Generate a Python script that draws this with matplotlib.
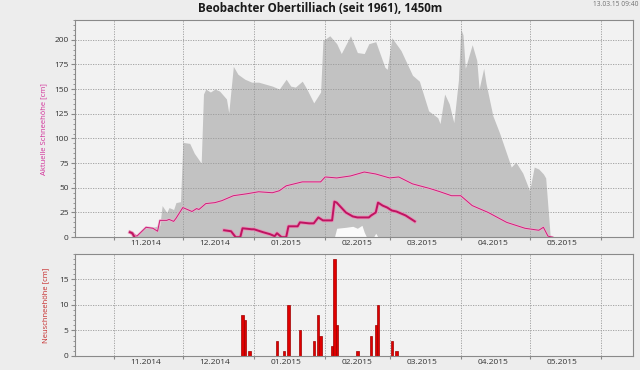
import matplotlib
matplotlib.use("Agg")
import matplotlib.pyplot as plt
import matplotlib.dates as mdates
from matplotlib.ticker import MultipleLocator, AutoMinorLocator, FixedLocator, NullFormatter
import numpy as np
import pandas as pd

plt.rcParams['font.family'] = ['Open Sans', 'DejaVu Sans']

# historical maximum snow depth (upper edge of the grey band), cm
max_dates = ["2014-11-08", "2014-11-11", "2014-11-15", "2014-11-18", "2014-11-21", "2014-11-22",
             "2014-11-24", "2014-11-25", "2014-11-27", "2014-11-28", "2014-11-30", "2014-12-01",
             "2014-12-04", "2014-12-06", "2014-12-09", "2014-12-10", "2014-12-11", "2014-12-13",
             "2014-12-15", "2014-12-17", "2014-12-20", "2014-12-21", "2014-12-23", "2014-12-25",
             "2014-12-28", "2014-12-31", "2015-01-03", "2015-01-06", "2015-01-09", "2015-01-12",
             "2015-01-15", "2015-01-17", "2015-01-19", "2015-01-22", "2015-01-24", "2015-01-27",
             "2015-01-30", "2015-01-31", "2015-02-03", "2015-02-06", "2015-02-08", "2015-02-12",
             "2015-02-15", "2015-02-18", "2015-02-20", "2015-02-23", "2015-02-27", "2015-02-28",
             "2015-03-02", "2015-03-06", "2015-03-11", "2015-03-14", "2015-03-18", "2015-03-22",
             "2015-03-23", "2015-03-25", "2015-03-27", "2015-03-29", "2015-03-31", "2015-04-01",
             "2015-04-02", "2015-04-03", "2015-04-04", "2015-04-06", "2015-04-08", "2015-04-09",
             "2015-04-11", "2015-04-12", "2015-04-15", "2015-04-18", "2015-04-23", "2015-04-25",
             "2015-04-28", "2015-05-01", "2015-05-03", "2015-05-05", "2015-05-07", "2015-05-08",
             "2015-05-10"]
max_vals = [0, 2, 10, 10, 12, 32,
            25, 30, 28, 35, 36, 96,
            95, 85, 75, 145, 150, 147,
            150, 148, 140, 126, 173, 165,
            160, 157, 157, 155, 153, 150,
            160, 153, 152, 158, 150, 136,
            147, 199, 204, 196, 186, 204,
            187, 186, 196, 198, 172, 170,
            202, 189, 164, 158, 128, 121,
            115, 145, 135, 116, 159, 211,
            205, 171, 179, 195, 179, 150,
            171, 156, 123, 105, 71, 76,
            65, 47, 71, 69, 64, 60,
            0]

# historical minimum (only above zero in February)
min_dates = ["2015-02-05", "2015-02-06", "2015-02-10", "2015-02-13", "2015-02-15", "2015-02-17",
             "2015-02-18", "2015-02-19", "2015-02-22", "2015-02-23", "2015-02-24"]
min_vals = [0, 9, 10, 11, 9, 12, 5, 0, 0, 4, 0]

# long term mean snow depth
mean_dates = ["2014-11-08", "2014-11-11", "2014-11-15", "2014-11-18", "2014-11-20", "2014-11-21",
              "2014-11-24", "2014-11-25", "2014-11-27", "2014-11-28", "2014-12-01", "2014-12-04",
              "2014-12-05", "2014-12-07", "2014-12-08", "2014-12-11", "2014-12-15", "2014-12-18",
              "2014-12-20", "2014-12-23", "2014-12-29", "2015-01-03", "2015-01-09", "2015-01-12",
              "2015-01-15", "2015-01-22", "2015-01-30", "2015-02-01", "2015-02-06", "2015-02-12",
              "2015-02-18", "2015-02-23", "2015-03-01", "2015-03-05", "2015-03-11", "2015-03-19",
              "2015-03-23", "2015-03-28", "2015-04-01", "2015-04-06", "2015-04-13", "2015-04-21",
              "2015-04-29", "2015-05-05", "2015-05-07", "2015-05-09", "2015-05-11"]
mean_vals = [5, 1, 10, 9, 6, 17,
             17, 18, 16, 19, 30, 27,
             26, 29, 28, 34, 35, 37,
             39, 42, 44, 46, 45, 47,
             52, 56, 56, 61, 60, 62,
             66, 64, 60, 61, 54, 49,
             46, 42, 42, 32, 25, 15,
             9, 7, 10, 1, 0]

# current season 2014/15 (nan = no data)
cur_dates = ["2014-11-08", "2014-11-09", "2014-11-10", "2014-11-11", "2014-12-19", "2014-12-22",
             "2014-12-24", "2014-12-26", "2014-12-27", "2014-12-31", "2015-01-01", "2015-01-05",
             "2015-01-08", "2015-01-10", "2015-01-11", "2015-01-12", "2015-01-13", "2015-01-15",
             "2015-01-16", "2015-01-20", "2015-01-21", "2015-01-25", "2015-01-27", "2015-01-29",
             "2015-01-31", "2015-02-04", "2015-02-05", "2015-02-06", "2015-02-08", "2015-02-10",
             "2015-02-13", "2015-02-15", "2015-02-20", "2015-02-21", "2015-02-23", "2015-02-24",
             "2015-02-26", "2015-02-28", "2015-03-02", "2015-03-04", "2015-03-08", "2015-03-12"]
cur_vals = [5, 4, 0, np.nan, 7, 6,
            0, 0, 9, 8, 8, 5,
            3, 1, 4, 2, 0, 0,
            11, 11, 15, 14, 14, 20,
            17, 17, 36, 35, 30, 25,
            21, 20, 20, 22, 25, 35,
            32, 30, 27, 26, 22, 16]

# new snow per day
new_dates = ["2014-12-27", "2014-12-28", "2014-12-30", "2015-01-11", "2015-01-14", "2015-01-16",
             "2015-01-21", "2015-01-27", "2015-01-29", "2015-01-30", "2015-02-04", "2015-02-05",
             "2015-02-06", "2015-02-15", "2015-02-21", "2015-02-23", "2015-02-24", "2015-03-02",
             "2015-03-04"]
new_vals = [8, 7, 1, 3, 1, 10, 5, 3, 8, 4, 2, 19, 6, 1, 4, 6, 10, 3, 1]

tick_dates = ["2014-11-15", "2014-12-15", "2015-01-15", "2015-02-15", "2015-03-15",
              "2015-04-15", "2015-05-15"]
tick_labels = ["11.2014", "12.2014", "01.2015", "02.2015", "03.2015", "04.2015", "05.2015"]
month_starts = ["2014-11-01", "2014-12-01", "2015-01-01", "2015-02-01", "2015-03-01",
                "2015-04-01", "2015-05-01", "2015-06-01"]

x0, x1 = pd.Timestamp("2014-10-15"), pd.Timestamp("2015-06-15")

fig = plt.figure(figsize=(6.4, 3.7), dpi=100, facecolor='#ededed')
ax1 = fig.add_axes([0.117, 0.359, 0.872, 0.587])
ax2 = fig.add_axes([0.117, 0.038, 0.872, 0.2755])

ax1.fill_between(pd.to_datetime(max_dates), max_vals, 0, color='#c2c2c2', lw=0, zorder=1)
ax1.fill_between(pd.to_datetime(min_dates), min_vals, 0, color='#fafafa', lw=0, zorder=1.5)
ax1.plot(pd.to_datetime(mean_dates), mean_vals, color='#eeb0cf', lw=1.6, zorder=3)
ax1.plot(pd.to_datetime(mean_dates), mean_vals, color='#cc1f78', lw=0.7, zorder=3.1)
ax1.plot(pd.to_datetime(cur_dates), cur_vals, color='#e590b8', lw=2.6, zorder=4)
ax1.plot(pd.to_datetime(cur_dates), cur_vals, color='#bf1460', lw=1.4, zorder=4.1)

ax2.bar(pd.to_datetime(new_dates), new_vals, width=1.0, color='#e00000',
        edgecolor='#a00000', lw=0.5, zorder=3)

for ax in (ax1, ax2):
    ax.set_facecolor('#f2f2f2')
    ax.set_xlim(x0, x1)
    ax.xaxis.set_major_locator(FixedLocator(mdates.date2num(pd.to_datetime(month_starts))))
    ax.xaxis.set_major_formatter(NullFormatter())
    ax.xaxis.set_minor_locator(FixedLocator(mdates.date2num(pd.to_datetime(tick_dates))))
    ax.xaxis.set_minor_formatter(matplotlib.ticker.FixedFormatter(tick_labels))
    ax.tick_params(axis='x', which='major', length=2, color='#888888')
    ax.tick_params(axis='x', which='minor', length=0, labelsize=6, colors='#333333', pad=2)
    ax.tick_params(axis='y', which='major', length=3, labelsize=6, colors='#333333',
                   pad=1.5)
    ax.tick_params(axis='y', which='minor', length=1.5, color='#888888')
    ax.tick_params(axis='y', which='major', color='#888888')
    ax.yaxis.set_minor_locator(AutoMinorLocator(5))
    ax.grid(True, which='major', color='#9a9a9a', lw=0.6, ls=(0, (1.5, 1.5)), zorder=2)
    for sp in ax.spines.values():
        sp.set_color('#8a8a8a')
        sp.set_linewidth(0.8)
        sp.set_zorder(5)

ax1.set_ylim(0, 220)
ax1.yaxis.set_major_locator(MultipleLocator(25))
ax1.set_ylabel("Aktuelle Schneehöhe [cm]", color='#d2319a', fontsize=5.5, labelpad=5)

ax2.set_ylim(0, 20)
ax2.yaxis.set_major_locator(FixedLocator([0, 5, 10, 15]))
ax2.set_ylabel("Neuschneehöhe [cm]", color='#c62a2a', fontsize=5.5, labelpad=7)

fig.text(0.5, 0.978, "Beobachter Obertilliach (seit 1961), 1450m", ha='center', va='center',
         fontsize=8.4, fontweight='bold', color='#1a1a1a')
fig.text(0.997, 0.988, "13.03.15 09:40", ha='right', va='center', fontsize=4.8, color='#707070')

fig.savefig("out.png", dpi=100, facecolor=fig.get_facecolor())
